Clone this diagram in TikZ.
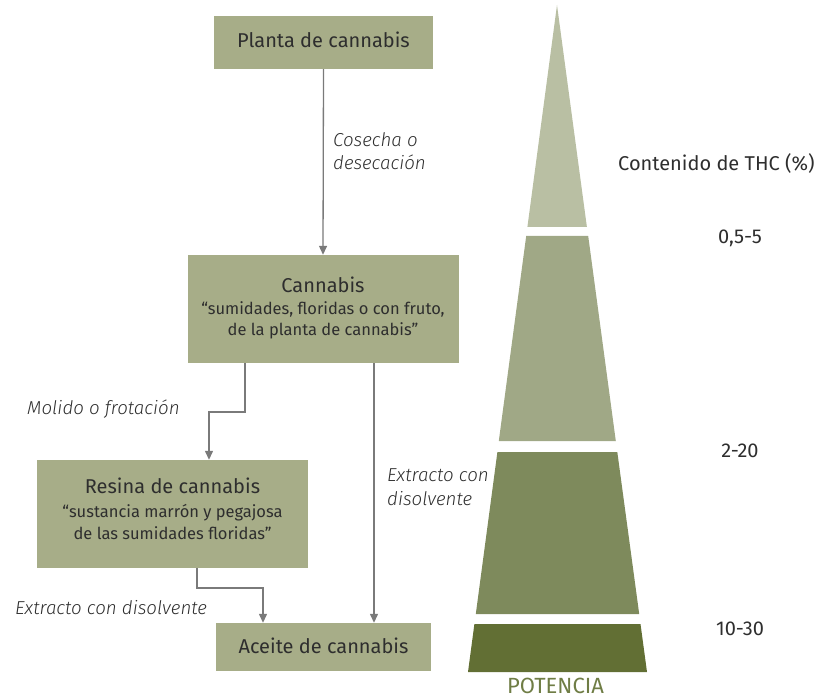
\documentclass[tikz,border=0pt]{standalone}
\usepackage{fontspec}
\setmainfont{Fira Sans}[ItalicFont={Fira Sans Light Italic}]
\usetikzlibrary{arrows.meta}
\definecolor{boxfill}{HTML}{A7AD88}
\definecolor{linegray}{HTML}{7A7A7A}
\definecolor{txt}{HTML}{2E2E2E}
\definecolor{bandA}{HTML}{B9BFA3}
\definecolor{bandB}{HTML}{A0A886}
\definecolor{bandC}{HTML}{7E8A5C}
\definecolor{bandD}{HTML}{626F34}
\definecolor{potcol}{HTML}{6F7D45}
\tikzset{
  box/.style={fill=boxfill, draw=none, inner sep=0pt},
  conn/.style={draw=linegray, line width=1.3pt, -{Triangle[width=8pt,length=9pt]}},
  lab/.style={text=txt, font=\fontsize{18.7}{22}\selectfont\itshape, inner sep=0pt, anchor=base west},
  num/.style={text=txt, font=\fontsize{20}{24}\selectfont, inner sep=0pt, anchor=base},
  big/.style={text=txt, font=\fontsize{20}{24}\selectfont, inner sep=0pt, anchor=base},
  small/.style={text=txt, font=\fontsize{16.5}{20}\selectfont, inner sep=0pt, anchor=base}
}
\begin{document}
\begin{tikzpicture}[x=1pt,y=-1pt]
\useasboundingbox (0,0) rectangle (822,700);
% boxes
\node[box, minimum width=219pt, minimum height=53pt] (planta) at (323.5,42.5) {};
\node[big] (plantaT) at (323.5,48) {Planta de cannabis};
\node[box, minimum width=271pt, minimum height=108pt] (cannabis) at (323,309) {};
\node[big] (cannabisT) at (323,293) {Cannabis};
\node[small] (cannabisA) at (323,315) {“sumidades, floridas o con fruto,};
\node[small] (cannabisB) at (323,336) {de la planta de cannabis”};
\node[box, minimum width=271pt, minimum height=108pt] (resina) at (172.5,514) {};
\node[big] (resinaT) at (172.5,493) {Resina de cannabis};
\node[small] (resinaA) at (172.5,517) {“sustancia marrón y pegajosa};
\node[small] (resinaB) at (172.5,539) {de las sumidades floridas”};
\node[box, minimum width=215pt, minimum height=48pt] (aceite) at (323.5,647) {};
\node[big] (aceiteT) at (323.5,653) {Aceite de cannabis};
% bend points
\coordinate (k1) at (245,412);
\coordinate (k2) at (209,412);
\coordinate (k3) at (374,412);
\coordinate (k4) at (197,588);
\coordinate (k5) at (263,588);
% connectors
\draw[conn] (planta.south) -- (cannabis.north);
\draw[conn] (cannabis.south -| k1) -- (k1) -- (k2) -- (resina.north -| k2);
\draw[conn] (cannabis.south -| k3) -- (aceite.north -| k3);
\draw[conn] (resina.south -| k4) -- (k4) -- (k5) -- (aceite.north -| k5);
% connector labels
\node[lab] (l1a) at (333,147) {Cosecha o};
\node[lab] (l1b) at (333,170) {desecación};
\node[lab] (l2) at (27,414) {Molido o frotación};
\node[lab] (l3a) at (387,481) {Extracto con};
\node[lab] (l3b) at (387,505) {disolvente};
\node[lab] (l4) at (15,614) {Extracto con disolvente};
% pyramid
\fill[bandA] (557,5) -- (586.9,227) -- (527.4,227) -- cycle;
\fill[bandB] (526.2,236) -- (588.2,236) -- (615.8,441) -- (498.8,441) -- cycle;
\fill[bandC] (497.4,452) -- (617.3,452) -- (639.2,614) -- (475.8,614) -- cycle;
\fill[bandD] (474.4,624) -- (640.5,624) -- (647,672) -- (468,672) -- cycle;
\node[text=potcol, font=\fontsize{22}{26}\selectfont, inner sep=0pt, anchor=base] (pot) at (555.5,693) {POTENCIA};
% THC values
\node[num, anchor=base west] (thc) at (618,171) {Contenido de THC (\%)};
\node[num] (v1) at (740,244) {0,5-5};
\node[num] (v2) at (740,457) {2-20};
\node[num] (v3) at (740,635) {10-30};
\end{tikzpicture}
\end{document}
